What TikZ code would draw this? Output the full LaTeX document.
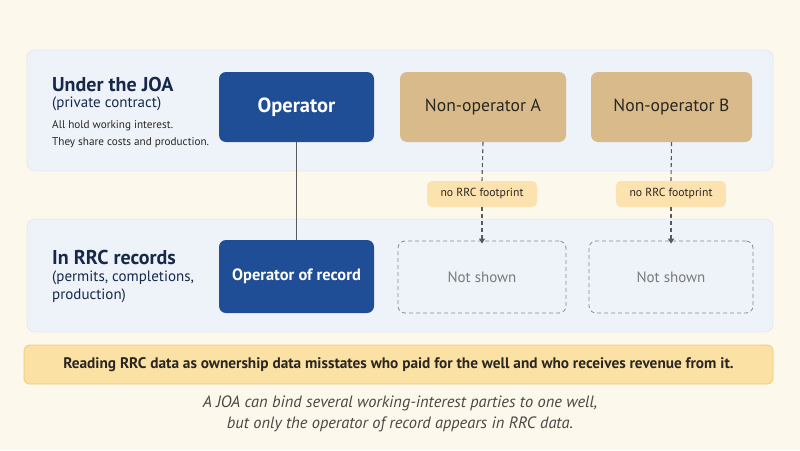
\documentclass[tikz,border=0pt]{standalone}
\usepackage{fontspec}
\setmainfont{PT Sans}
\usetikzlibrary{arrows.meta}
\definecolor{bgc}{HTML}{FDF8EC}
\definecolor{panel}{HTML}{EEF3FA}
\definecolor{panelline}{HTML}{E2E9F3}
\definecolor{opblue}{HTML}{1F4E96}
\definecolor{tan}{HTML}{D9BA8B}
\definecolor{tagc}{HTML}{FCE2AE}
\definecolor{bannerc}{HTML}{FBE1A3}
\definecolor{bannerline}{HTML}{EEC97A}
\definecolor{navy}{HTML}{17284A}
\definecolor{darktxt}{HTML}{2A2620}
\definecolor{grayline}{HTML}{5A5A5A}
\definecolor{dashgray}{HTML}{8A8A8A}
\definecolor{graytxt}{HTML}{7A7A7A}
\begin{document}
\begin{tikzpicture}[x=1pt,y=-1pt,
  panelbox/.style={draw=panelline,fill=panel,rounded corners=8pt,line width=0.8pt},
  opbox/.style={fill=opblue,rounded corners=7pt,text=white,font=\bfseries\fontsize{20.5}{24}\selectfont,inner sep=0pt},
  nonop/.style={fill=tan,rounded corners=7pt,text=darktxt,font=\fontsize{17.6}{20}\selectfont,inner sep=0pt},
  hidden/.style={draw=dashgray,dashed,dash pattern=on 4pt off 3pt,rounded corners=7pt,text=graytxt,font=\fontsize{15}{18}\selectfont,inner sep=0pt,line width=0.8pt},
  tag/.style={fill=tagc,rounded corners=5pt,text=darktxt,font=\fontsize{11.7}{14}\selectfont,minimum width=110pt,minimum height=26pt,inner sep=0pt},
  head/.style={anchor=west,text=navy,font=\bfseries\fontsize{20}{24}\selectfont,inner sep=0pt},
  sub/.style={anchor=west,text=navy,font=\fontsize{15}{18}\selectfont,inner sep=0pt},
  small/.style={anchor=west,text=darktxt,font=\fontsize{11.2}{14}\selectfont,inner sep=0pt},
  conn/.style={draw=grayline,line width=1.2pt},
  dconn/.style={draw=grayline,line width=1.1pt,dash pattern=on 4pt off 3pt,-{Triangle[length=5pt,width=6pt]}}
]
\useasboundingbox (0,0) rectangle (800,450);
\fill[bgc] (0,0) rectangle (800,450);
% panels
\draw[panelbox] (27,50) rectangle (773,171);
\draw[panelbox] (27,219) rectangle (773,332);
% left labels
\node[head] (h1) at (52,84) {Under the JOA};
\node[sub] (s1) at (52,104) {(private contract)};
\node[small] (t1) at (52,126) {All hold working interest.};
\node[small] (t2) at (52,143) {They share costs and production.};
\node[head] (h2) at (52,257) {In RRC records};
\node[sub] (s2) at (52,278) {(permits, completions,};
\node[sub] (s3) at (52,296) {production)};
% boxes
\node[opbox,minimum width=155pt,minimum height=70pt] (op) at (296.5,107) {Operator};
\node[nonop,minimum width=166pt,minimum height=70pt] (na) at (483,107) {Non-operator A};
\node[nonop,minimum width=161pt,minimum height=70pt] (nb) at (671.5,107) {Non-operator B};
\node[opbox,minimum width=155pt,minimum height=73pt,font=\bfseries\fontsize{16.4}{20}\selectfont] (opr) at (296.5,276.5) {Operator of record};
\node[hidden,minimum width=168pt,minimum height=72pt] (xa) at (482,277) {Not shown};
\node[hidden,minimum width=164pt,minimum height=72pt] (xb) at (671,277) {Not shown};
% tags
\node[tag] (ta) at (482,194) {no RRC footprint};
\node[tag] (tb) at (671,194) {no RRC footprint};
% connectors
\draw[conn] (op.south) -- (opr.north);
\draw[dconn,-] (na.south) -- (ta.north);
\draw[dconn] (ta.south) -- ([yshift=-3pt]xa.north);
\draw[dconn,-] (nb.south) -- (tb.north);
\draw[dconn] (tb.south) -- ([yshift=-3pt]xb.north);
% banner
\node[draw=bannerline,fill=bannerc,rounded corners=6pt,line width=0.8pt,minimum width=749pt,minimum height=39pt,inner sep=0pt,text=darktxt,font=\bfseries\fontsize{15.3}{18}\selectfont] (ban) at (398.5,364.5) {Reading RRC data as ownership data misstates who paid for the well and who receives revenue from it.};
% caption
\node[align=center,text=darktxt!85,font=\itshape\fontsize{16.4}{21}\selectfont,inner sep=0pt] (cap) at (400,413.5) {A JOA can bind several working-interest parties to one well,\\but only the operator of record appears in RRC data.};
\end{tikzpicture}
\end{document}
